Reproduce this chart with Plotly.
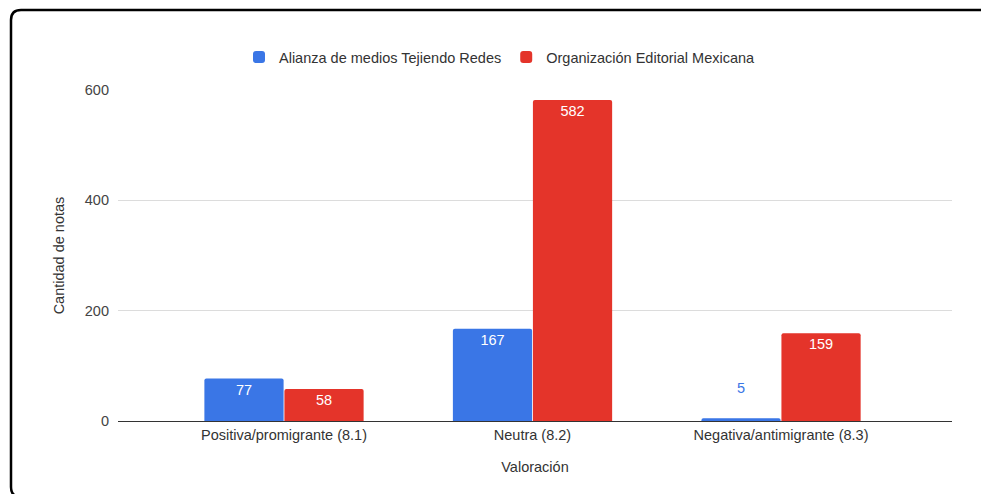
import plotly.graph_objects as go

categories = ["Positiva/promigrante (8.1)", "Neutra (8.2)", "Negativa/antimigrante (8.3)"]
series_names = ["Alianza de medios Tejiendo Redes", "Organización Editorial Mexicana"]
alianza = [77, 167, 5]
oem = [58, 582, 159]
y_ticks = [0, 200, 400, 600]

BLUE = "#3a76e6"
RED = "#e4342a"
FONT = "Arial, Liberation Sans, sans-serif"
FS = 14.5

OFF = 0
W, H = 981 - OFF, 494 - OFF
# plot area in page pixels: x 118..952, y 90..421
PL, PR, PT, PB = 118, 952, 90, 421
L, T = PL - OFF, PT - OFF
R, B = W - (PR - OFF), H - (PB - OFF)
pw, ph = PR - PL, PB - PT


def pos(values):
    return ["inside" if v >= 30 else "outside" for v in values]


def col(values, c):
    return ["white" if v >= 30 else c for v in values]


def txt(values):
    return [str(v) if v >= 30 else f"{v}<br> " for v in values]


fig = go.Figure()
for name, vals, c in [(series_names[0], alianza, BLUE), (series_names[1], oem, RED)]:
    fig.add_trace(go.Bar(
        name=name, x=categories, y=vals, marker=dict(color=c, cornerradius=2, line=dict(width=0)),
        text=txt(vals), textposition=pos(vals), insidetextanchor="end",
        textfont=dict(color=col(vals, c), size=FS, family=FONT), cliponaxis=False,
    ))


# frame (page pixel coords converted to paper coords)
def px(x):
    return (x - PL) / pw


def py(y):
    return (PB - y) / ph


x0, y0, x1, y1, r = 11, 10, 1000, 497, 10
path = (f"M {px(x0 + r)},{py(y1)} Q {px(x0)},{py(y1)} {px(x0)},{py(y1 - r)} "
        f"L {px(x0)},{py(y0 + r)} Q {px(x0)},{py(y0)} {px(x0 + r)},{py(y0)} "
        f"L {px(x1)},{py(y0)}")
fig.add_shape(type="path", path=path, xref="paper", yref="paper",
              line=dict(color="black", width=2.5), fillcolor="rgba(0,0,0,0)", layer="above")

fig.update_layout(
    width=W, height=H,
    margin=dict(l=L, r=R, t=T, b=B),
    paper_bgcolor="white", plot_bgcolor="white",
    font=dict(family=FONT, size=FS, color="#444"),
    barmode="group", bargap=0.356, bargroupgap=0.01,
    showlegend=True,
    legend=dict(orientation="h", x=px(500), xanchor="center", y=py(57), yanchor="middle",
                font=dict(size=FS, color="#333"), tracegroupgap=0, itemsizing="constant"),
    xaxis=dict(range=[-0.668, 2.688], showgrid=False, showline=True, linecolor="#333",
               linewidth=1.3, ticks="", tickfont=dict(size=FS, color="#333"),
               title=dict(text="Valoración", font=dict(size=FS, color="#333"), standoff=20),
               fixedrange=True),
    yaxis=dict(range=[0, 600], tickvals=y_ticks, showgrid=True, gridcolor="#dcdcdc",
               gridwidth=1, zeroline=False, ticks="", ticklabelstandoff=8,
               tickfont=dict(size=FS, color="#444"),
               title=dict(text="Cantidad de notas", font=dict(size=FS, color="#333"), standoff=16)),
)

fig.write_html(
    "out.html",
    config={"displayModeBar": False},
    post_script="document.body.style.margin='0';document.body.style.overflow='hidden';",
)
